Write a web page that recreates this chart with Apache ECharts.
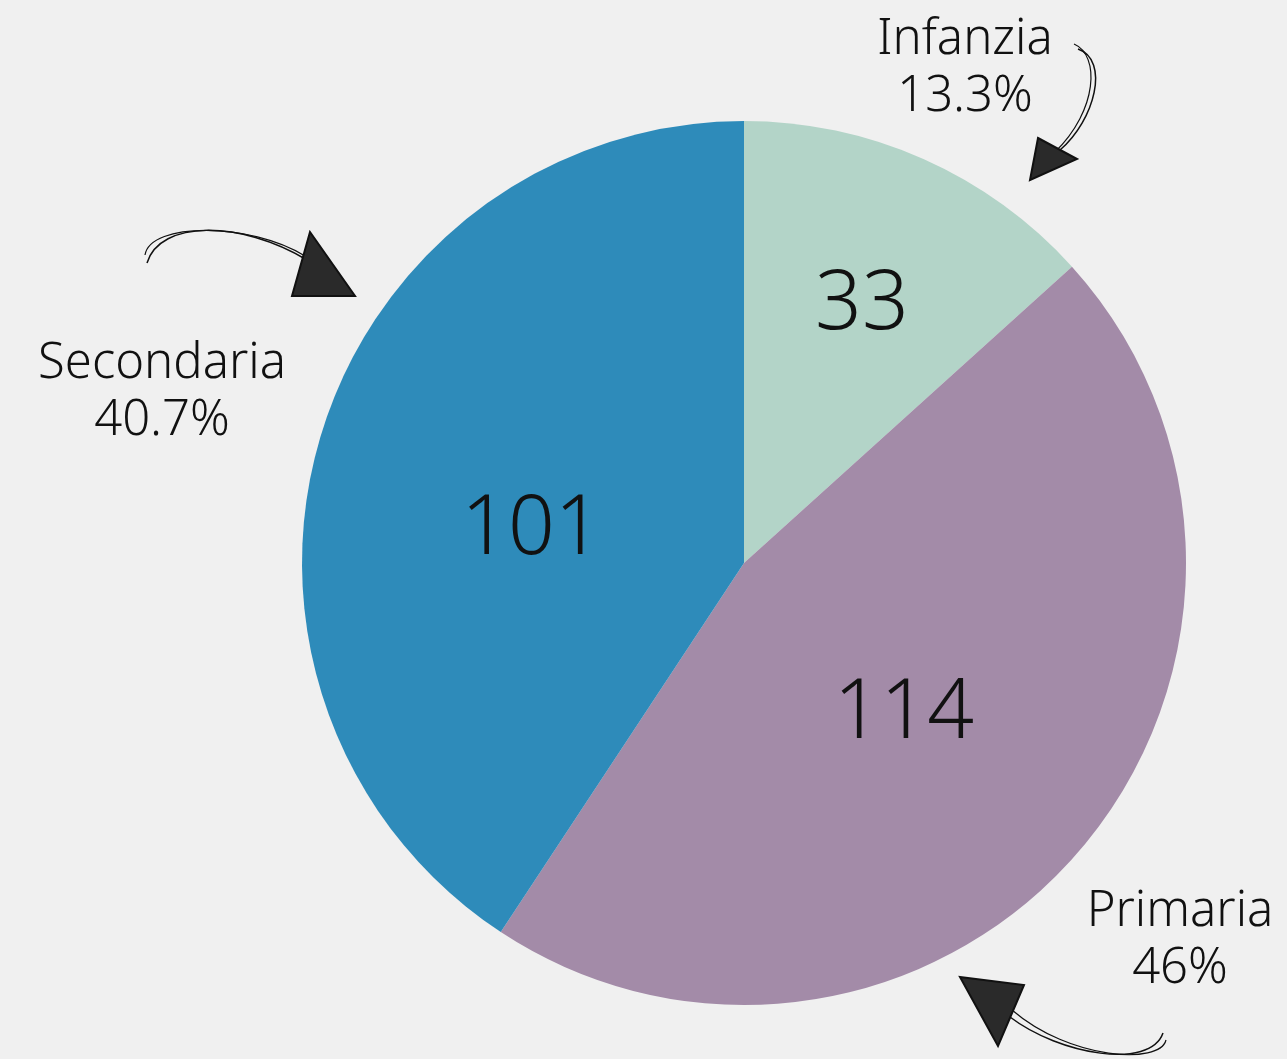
<!DOCTYPE html>
<html>
<head>
<meta charset="utf-8">
<script src="https://cdn.jsdelivr.net/npm/echarts@6/dist/echarts.min.js"></script>
<style>
  html, body { margin: 0; padding: 0; background: #f0f0f0; }
  #chart { width: 1287px; height: 1059px; }
</style>
</head>
<body>
<div id="chart"></div>
<script>
const categories = ["Infanzia", "Primaria", "Secondaria"];
const counts = [33, 114, 101];
const colors = ["#b3d4c8", "#a38ba8", "#2e8bba"];

// where the name / percent labels sit, and nudges for the numbers
const outerLabelPos = [[965, 69], [1180, 941], [162, 393]];
const innerNudge = [[27, -53], [-10, 6], [2, 32]];

const font = "'Noto Sans', sans-serif";
const chart = echarts.init(document.getElementById("chart"));

const pieData = categories.map((name, i) => ({
  name,
  value: counts[i],
  itemStyle: { color: colors[i] },
}));

chart.setOption({
  backgroundColor: "#f0f0f0",
  animation: false,
  series: [
    {
      type: "pie",
      center: [744, 563],
      radius: [0, 442],
      startAngle: 90,
      clockwise: true,
      data: pieData,
      label: {
        position: "inside",
        formatter: "{c}",
        color: "#111",
        fontFamily: font,
        fontSize: 82,
        fontWeight: 300,
      },
      labelLine: { show: false },
      labelLayout: (p) => ({ dx: innerNudge[p.dataIndex][0], dy: innerNudge[p.dataIndex][1] }),
      emphasis: { disabled: true },
    },
    {
      type: "pie",
      center: [744, 563],
      radius: [0, 442],
      startAngle: 90,
      silent: true,
      percentPrecision: 1,
      data: categories.map((name, i) => ({ name, value: counts[i] })),
      itemStyle: { color: "transparent" },
      label: {
        position: "inside",
        formatter: "{b}\n{d}%",
        color: "#111",
        fontFamily: font,
        fontSize: 49,
        fontWeight: 300,
        lineHeight: 57,
        align: "center",
        overflow: "none",
      },
      labelLine: { show: false },
      labelLayout: (p) => ({
        x: outerLabelPos[p.dataIndex][0],
        y: outerLabelPos[p.dataIndex][1],
        align: "center",
        verticalAlign: "middle",
      }),
    },
  ],
  graphic: [
    // Infanzia arrow
    { type: "bezierCurve", shape: { x1: 1078, y1: 49, x2: 1060, y2: 150, cpx1: 1110, cpy1: 60, cpx2: 1095, cpy2: 120 }, style: { stroke: "#111", lineWidth: 1.5, fill: null } },
    { type: "bezierCurve", shape: { x1: 1074, y1: 44, x2: 1055, y2: 152, cpx1: 1100, cpy1: 55, cpx2: 1098, cpy2: 110 }, style: { stroke: "#111", lineWidth: 1.2, fill: null } },
    { type: "polygon", shape: { points: [[1038, 138], [1077, 159], [1030, 180]] }, style: { fill: "#2a2a2a", stroke: "#111", lineWidth: 2 } },
    // Secondaria arrow
    { type: "bezierCurve", shape: { x1: 147, y1: 263, x2: 307, y2: 260, cpx1: 160, cpy1: 220, cpx2: 240, cpy2: 220 }, style: { stroke: "#111", lineWidth: 1.5, fill: null } },
    { type: "bezierCurve", shape: { x1: 145, y1: 255, x2: 305, y2: 256, cpx1: 150, cpy1: 222, cpx2: 250, cpy2: 222 }, style: { stroke: "#111", lineWidth: 1.2, fill: null } },
    { type: "polygon", shape: { points: [[310, 232], [355, 296], [292, 296]] }, style: { fill: "#2a2a2a", stroke: "#111", lineWidth: 2 } },
    // Primaria arrow
    { type: "bezierCurve", shape: { x1: 1010, y1: 1017, x2: 1163, y2: 1033, cpx1: 1060, cpy1: 1055, cpx2: 1150, cpy2: 1070 }, style: { stroke: "#111", lineWidth: 1.5, fill: null } },
    { type: "bezierCurve", shape: { x1: 1012, y1: 1010, x2: 1166, y2: 1040, cpx1: 1070, cpy1: 1060, cpx2: 1160, cpy2: 1065 }, style: { stroke: "#111", lineWidth: 1.2, fill: null } },
    { type: "polygon", shape: { points: [[960, 977], [1024, 985], [998, 1046]] }, style: { fill: "#2a2a2a", stroke: "#111", lineWidth: 2 } },
  ],
});
</script>
</body>
</html>
